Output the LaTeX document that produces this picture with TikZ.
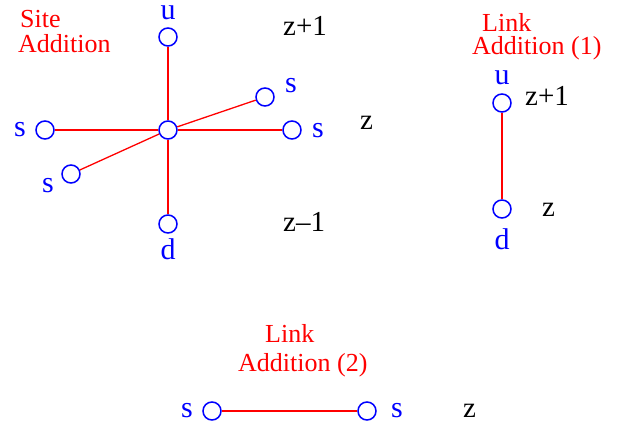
\documentclass[tikz,border=0pt]{standalone}
\usepackage{fontspec}
\setmainfont{Liberation Serif}
\tikzset{
  site/.style={circle, draw=blue, line width=1.5pt, minimum size=18pt, inner sep=0pt, fill=white},
  bond/.style={draw=red, line width=1.3pt},
  blab/.style={text=blue, anchor=base, font=\fontsize{30}{34}\selectfont, inner sep=0pt},
  zlab/.style={text=black, anchor=base west, font=\fontsize{29}{34}\selectfont, inner sep=0pt},
  title/.style={text=red, anchor=south west, align=left, text depth=0pt, inner sep=0pt}
}
\begin{document}
\begin{tikzpicture}[x=1pt,y=-1pt]
\useasboundingbox (0,0) rectangle (625,430);
% Site addition
\node[title, font=\fontsize{26}{25}\selectfont] (t1) at (18,53) {\hspace{2pt}Site\\Addition};
\node[site] (c) at (168,130) {};
\node[site] (u1) at (168,37) {};
\node[site] (d1) at (168,224) {};
\node[site] (sl) at (45,130) {};
\node[site] (sr) at (292,130) {};
\node[site] (sur) at (265,97) {};
\node[site] (sll) at (71,174) {};
\draw[bond] (c) -- (u1);
\draw[bond] (c) -- (d1);
\draw[bond] (c) -- (sl);
\draw[bond] (c) -- (sr);
\draw[bond] (c) -- (sur);
\draw[bond] (c) -- (sll);
\node[blab, text height=14pt] (lu1) at (168,20) {u};
\node[blab] (ld1) at (168,260) {d};
\node[blab] (lsl) at (20,137) {s};
\node[blab] (lsr) at (318,138) {s};
\node[blab] (lsur) at (291,93) {s};
\node[blab] (lsll) at (48,193) {s};
\node[zlab] (z1a) at (283,36) {z+1};
\node[zlab] (z1b) at (360,130) {z};
\node[zlab] (z1c) at (283,232) {z\textendash 1};
% Link addition (1)
\node[title, font=\fontsize{26}{23}\selectfont] (t2) at (472,55) {\hspace{10pt}Link\\Addition (1)};
\node[site] (u2) at (502,103) {};
\node[site] (d2) at (502,209) {};
\draw[bond] (u2) -- (d2);
\node[blab] (lu2) at (502,85) {u};
\node[blab] (ld2) at (502,250) {d};
\node[zlab] (z2a) at (525,106) {z+1};
\node[zlab] (z2b) at (542,217) {z};
% Link addition (2)
\node[title, font=\fontsize{26}{29}\selectfont] (t3) at (238,372) {\hspace{27pt}Link\\Addition (2)};
\node[site] (s3a) at (212,411) {};
\node[site] (s3b) at (367,411) {};
\draw[bond] (s3a) -- (s3b);
\node[blab] (ls3a) at (187,418) {s};
\node[blab] (ls3b) at (397,418) {s};
\node[zlab] (z3) at (463,418) {z};
\end{tikzpicture}
\end{document}
